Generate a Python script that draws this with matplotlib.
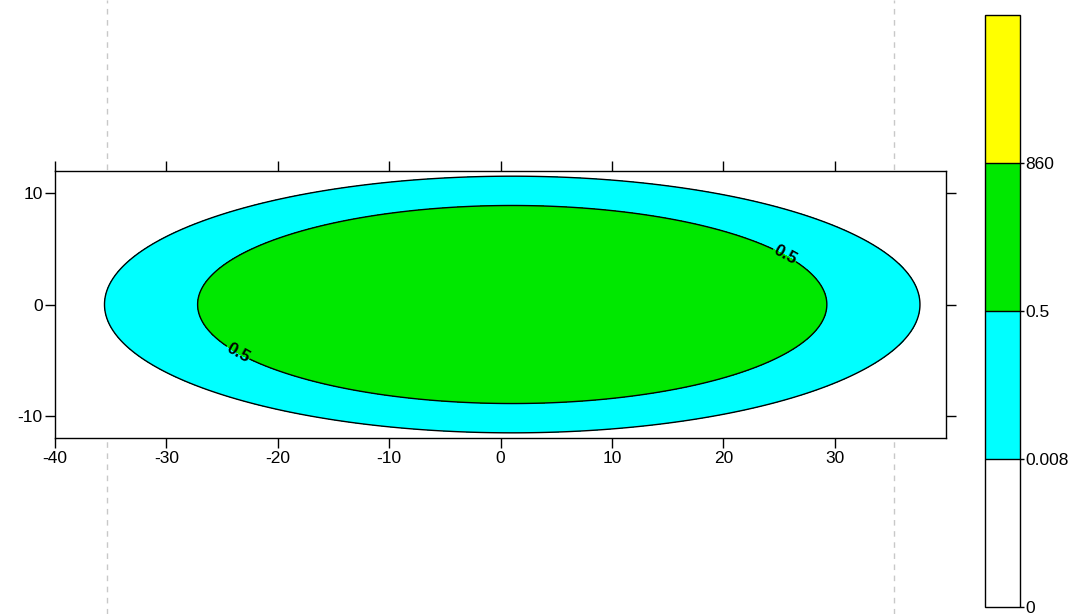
import numpy as np
import matplotlib
matplotlib.use("Agg")
import matplotlib.pyplot as plt
from matplotlib.colors import ListedColormap, BoundaryNorm
import matplotlib.colorbar as mcb

plt.rcParams['font.family'] = ['Liberation Sans', 'DejaVu Sans']
plt.rcParams['axes.unicode_minus'] = False

# contour levels and fill colours
levels = [0, 0.008, 0.5, 860]
level_labels = ['0', '0.008', '0.5', '860']
fill_colors = ['#ffffff', '#00ffff', '#00e800', '#ffff00']
peak = 860.0

# plume: centre and half widths of the 0.008 and 0.5 contours
x_centre = 1.05
half_x = [36.4, 28.25]   # 0.008, 0.5
half_y = [11.6, 8.9]

xticks = [-40, -30, -20, -10, 0, 10, 20, 30]
yticks = [-10, 0, 10]
guide_x = [-35.3, 35.3]
label_pos = [(-23.6, -4.4), (25.4, 4.2)]

# field: exp(-L * r^p) with r normalised to the 0.5 contour
L_in = np.log(peak / levels[2])
L_out = np.log(peak / levels[1])
ratio = 0.5 * (half_x[0] / half_x[1] + half_y[0] / half_y[1])
p = np.log(L_out / L_in) / np.log(ratio)

x = np.linspace(-40, 40, 801)
y = np.linspace(-12, 12, 401)
X, Y = np.meshgrid(x, y)
R = np.sqrt(((X - x_centre) / half_x[1])**2 + (Y / half_y[1])**2)
Z = 0.999 * peak * np.exp(-L_in * R**p)

fig = plt.figure(figsize=(10.77, 6.14), dpi=100)
ax = fig.add_axes([0.0511, 0.2866, 0.8273, 0.4349])

bounds = levels + [2000]
cmap = ListedColormap(fill_colors)
norm = BoundaryNorm(bounds, cmap.N)
ax.contourf(X, Y, Z, levels=bounds, cmap=cmap, norm=norm)
ax.contour(X, Y, Z, levels=[levels[1]], colors='black', linewidths=1.0)
cs = ax.contour(X, Y, Z, levels=[levels[2]], colors='black', linewidths=1.0)
cl = ax.clabel(cs, fmt={levels[2]: '0.5'}, manual=label_pos,
               inline=True, inline_spacing=1, fontsize=12.5)
for t in cl:
    t.set_fontweight('bold')

ax.set_xlim(-40, 40)
ax.set_ylim(-12, 12)
ax.set_xticks(xticks)
ax.set_yticks(yticks)
ax.tick_params(direction='out', length=7, width=1, labelsize=12.5, pad=2,
               top=True, right=True, labeltop=False, labelright=False)
for s in ax.spines.values():
    s.set_linewidth(1)

# grey dashed guides across the whole figure height
for gx in guide_x:
    ax.axvline(gx, ymin=-0.66, ymax=1.64, clip_on=False, color='#c8c8c8',
               linestyle=(0, (4, 4)), linewidth=1, zorder=0)

cax = fig.add_axes([0.9146, 0.0114, 0.0325, 0.9642])
cb = mcb.ColorbarBase(cax, cmap=cmap, norm=norm, boundaries=bounds,
                      ticks=levels, spacing='uniform', drawedges=True)
cb.set_ticklabels(level_labels)
cb.outline.set_linewidth(1)
cb.dividers.set_linewidth(1)
cax.minorticks_off()
cax.tick_params(length=3, width=1, labelsize=12.5, pad=1)

fig.savefig("out.png", dpi=100)
